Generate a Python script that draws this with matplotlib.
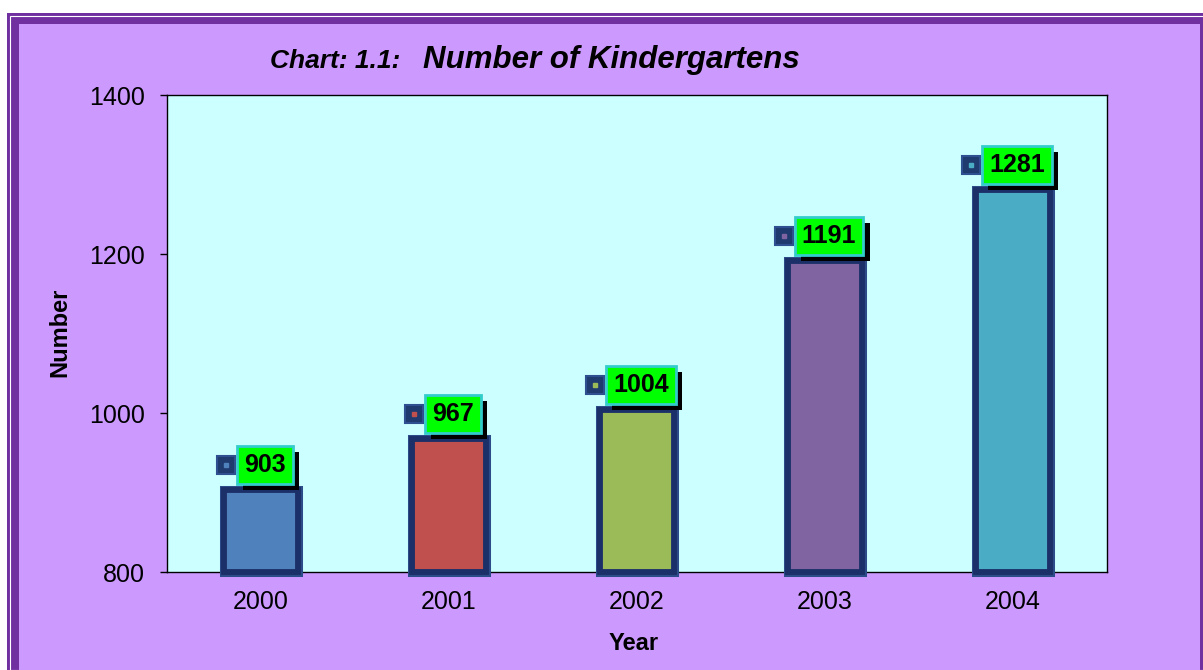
import numpy as np
import matplotlib.pyplot as plt
import matplotlib.patheffects as pe
from matplotlib.patches import Rectangle

# data
years = ['2000', '2001', '2002', '2003', '2004']
counts = [903, 967, 1004, 1191, 1281]
bar_colors = ['#4F81BD', '#C0504D', '#9BBB59', '#8064A2', '#4BACC6']
y_ticks = [800, 1000, 1200, 1400]

plt.rcParams['font.family'] = ['Liberation Sans', 'DejaVu Sans']

W, H = 1203, 670
fig = plt.figure(figsize=(W / 100, H / 100), dpi=100, facecolor='white')


def fx(px):
    return px / W


def fy(py):
    return 1 - py / H


# purple frame around the chart
fig.patches.append(Rectangle((fx(7), 0), fx(W - 7), fy(13), transform=fig.transFigure,
                             facecolor='#7030A0', edgecolor='none', zorder=-10))
fig.patches.append(Rectangle((fx(9.5), 0), fx(W), fy(15.5), transform=fig.transFigure,
                             facecolor='none', edgecolor='white', linewidth=0.8, zorder=-9))
fig.patches.append(Rectangle((fx(19), 0), fx(1200 - 19), fy(24), transform=fig.transFigure,
                             facecolor='#CC99FF', edgecolor='none', zorder=-8))

ax = fig.add_axes([fx(167), fy(572), fx(1107 - 167), (572 - 95) / H])
ax.set_zorder(1)
ax.set_facecolor('#CCFFFF')

x = np.arange(len(years))
base = y_ticks[0]
heights = np.array(counts) - base

# outer glow + dark border of bars
ax.bar(x, heights, bottom=base, width=0.39, color=bar_colors, edgecolor='#2B4C88',
       linewidth=6.5, clip_on=False, zorder=3)
bars = ax.bar(x, heights, bottom=base, width=0.39, color=bar_colors, edgecolor='#1B2F68',
              linewidth=4.2, clip_on=False, zorder=4)

ax.set_xlim(-0.5, len(years) - 0.5)
ax.set_ylim(y_ticks[0], y_ticks[-1])
ax.set_yticks(y_ticks)
ax.set_xticks(x)
ax.set_xticklabels(years)
ax.tick_params(axis='y', length=5, width=1, pad=11, labelsize=18)
ax.tick_params(axis='x', length=0, pad=13, labelsize=18)
for s in ax.spines.values():
    s.set_color('black')
    s.set_linewidth(1)

# value labels: green box with black drop shadow
labels = []
for i, v in enumerate(counts):
    lab = ax.annotate(str(v), xy=(i, v), xytext=(4, 25), textcoords='offset pixels',
                      ha='center', va='center', fontsize=18, fontweight='bold', color='black',
                      bbox=dict(boxstyle='square,pad=0.28', fc='#00FF00', ec='#33CCCC', lw=2),
                      zorder=6, annotation_clip=False)
    lab.get_bbox_patch().set_path_effects([
        pe.SimplePatchShadow(offset=(4.5, -4.5), shadow_rgbFace='black', alpha=1.0),
        pe.Normal()])
    labels.append(lab)

# legend key squares next to the labels
fig.canvas.draw()
renderer = fig.canvas.get_renderer()
for i, lab in enumerate(labels):
    bb = lab.get_bbox_patch().get_window_extent(renderer)
    kx, ky = ax.transData.inverted().transform((bb.x0 - 11, (bb.y0 + bb.y1) / 2))
    ax.plot([kx], [ky], marker='s', ms=13, mfc='#1F3A6E', mec='#2E5090', mew=1.5,
            clip_on=False, zorder=7)
    ax.plot([kx], [ky], marker='s', ms=2.5, mfc=bar_colors[i], mec=bar_colors[i],
            clip_on=False, zorder=8)

fig.text(fx(60), fy(332), 'Number', rotation=90, ha='center', va='center',
         fontsize=17, fontweight='bold')
fig.text(fx(634), fy(643), 'Year', ha='center', va='center', fontsize=17, fontweight='bold')

fig.text(fx(270), fy(68), 'Chart: 1.1:', ha='left', va='baseline', fontsize=19,
         fontweight='bold', fontstyle='italic')
fig.text(fx(423), fy(68), 'Number of Kindergartens', ha='left', va='baseline', fontsize=22.5,
         fontweight='bold', fontstyle='italic')

fig.savefig('out.png', dpi=100, facecolor=fig.get_facecolor())
